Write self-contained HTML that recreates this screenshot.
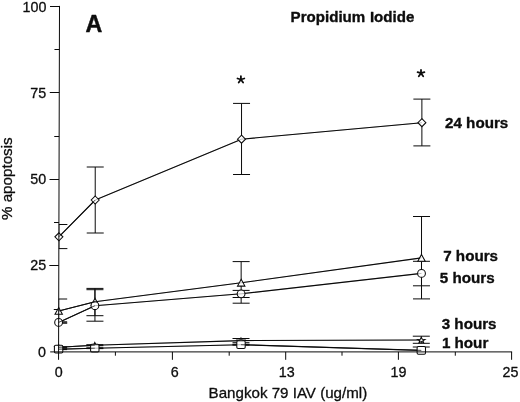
<!DOCTYPE html>
<html><head><meta charset="utf-8"><title>Chart</title>
<style>html,body{margin:0;padding:0;background:#fff;}body{width:520px;height:402px;position:relative;overflow:hidden;font-family:"Liberation Sans",sans-serif;}</style>
</head><body>
<svg width="520" height="402" viewBox="0 0 520 402" style="position:absolute;left:0;top:0">
<defs><filter id="gs" x="0" y="0" width="520" height="402" filterUnits="userSpaceOnUse"><feOffset dx="0" dy="0"/></filter><clipPath id="cp"><path d="M59.5 0L58.57 351.9H530V0Z"/></clipPath></defs>
<g stroke="#0a0a0a" stroke-width="1.0" fill="none">
<path d="M49.30 265.50H58.80"/>
<path d="M49.53 179.50H59.03"/>
<path d="M49.77 92.50H59.27"/>
<path d="M50.00 6.50H59.50"/>
<path d="M53.78 309.50H58.68"/>
<path d="M54.02 222.50H58.92"/>
<path d="M54.25 136.50H59.15"/>
<path d="M54.48 49.50H59.38"/>
<path d="M172.40 351.9V359.8"/>
<path d="M285.70 351.9V359.8"/>
<path d="M398.40 351.9V359.8"/>
<path d="M511.60 351.9V359.8"/>
<path d="M115.40 351.9V355.7"/>
<path d="M229.20 351.9V355.7"/>
<path d="M342.00 351.9V355.7"/>
<path d="M455.30 351.9V355.7"/>
</g>
<g stroke="#0a0a0a" stroke-width="1" fill="none" clip-path="url(#cp)">
<path d="M58.88 224.5V248.6 M50.38 224.5H67.38 M50.38 248.6H67.38"/>
<path d="M95.23 167.0V233.0 M86.73 167.0H103.73 M86.73 233.0H103.73"/>
<path d="M241.54 103.4V174.5 M233.04 103.4H250.04 M233.04 174.5H250.04"/>
<path d="M421.88 99.1V145.9 M413.38 99.1H430.38 M413.38 145.9H430.38"/>
<path d="M58.68 299.0V323.0 M50.18 299.0H67.18 M50.18 323.0H67.18"/>
<path d="M94.95 288.4V315.7 M86.45 288.4H103.45 M86.45 315.7H103.45"/>
<path d="M241.15 261.6V303.2 M232.65 261.6H249.65 M232.65 303.2H249.65"/>
<path d="M421.52 216.5V298.9 M413.02 216.5H430.02 M413.02 298.9H430.02"/>
<path d="M58.65 321.8V323.0 M50.15 321.8H67.15 M50.15 323.0H67.15"/>
<path d="M94.94 289.7V321.2 M86.44 289.7H103.44 M86.44 321.2H103.44"/>
<path d="M241.12 290.4V297.5 M232.62 290.4H249.62 M232.62 297.5H249.62"/>
<path d="M421.48 261.3V285.8 M412.98 261.3H429.98 M412.98 285.8H429.98"/>
<path d="M58.58 346.9V347.7 M50.08 346.9H67.08 M50.08 347.7H67.08"/>
<path d="M94.83 344.7V345.7 M86.33 344.7H103.33 M86.33 345.7H103.33"/>
<path d="M241.00 338.5V342.7 M232.50 338.5H249.50 M232.50 342.7H249.50"/>
<path d="M421.30 336.2V343.3 M412.80 336.2H429.80 M412.80 343.3H429.80"/>
<path d="M58.57 348.8V349.6 M50.07 348.8H67.07 M50.07 349.6H67.07"/>
<path d="M94.83 347.8V348.6 M86.33 347.8H103.33 M86.33 348.6H103.33"/>
<path d="M240.99 344.3V345.1 M232.49 344.3H249.49 M232.49 345.1H249.49"/>
<path d="M421.27 347.0V353.8 M412.77 347.0H429.77 M412.77 353.8H429.77"/>
</g>
<g stroke="#0a0a0a" stroke-width="1.1" fill="none" stroke-linejoin="round">
<path d="M58.88 236.8 L95.23 200.0 L241.54 139.2 L421.88 122.7"/>
<path d="M58.68 311.0 L94.95 301.8 L241.15 282.8 L421.52 257.9"/>
<path d="M58.65 322.4 L94.94 305.7 L241.12 293.8 L421.48 273.4"/>
<path d="M58.58 347.3 L94.83 345.2 L241.00 340.6 L421.30 340.0"/>
<path d="M58.57 349.2 L94.83 348.2 L240.99 344.7 L421.27 350.4"/>
</g>
<g stroke="#0a0a0a" stroke-width="1.05" fill="#fff">
<path d="M58.9 232.8L62.9 236.8L58.9 240.8L54.9 236.8Z"/>
<path d="M95.2 196.0L99.2 200.0L95.2 204.0L91.2 200.0Z"/>
<path d="M241.5 135.2L245.5 139.2L241.5 143.2L237.5 139.2Z"/>
<path d="M421.9 118.7L425.9 122.7L421.9 126.7L417.9 122.7Z"/>
<path d="M58.7 307.5L62.4 314.3L55.0 314.3Z"/>
<path d="M95.0 298.3L98.7 305.1L91.3 305.1Z"/>
<path d="M241.2 279.3L244.9 286.1L237.5 286.1Z"/>
<path d="M421.5 254.4L425.2 261.2L417.8 261.2Z"/>
<circle cx="58.6" cy="322.4" r="3.9"/>
<circle cx="94.9" cy="305.7" r="3.9"/>
<circle cx="241.1" cy="293.8" r="3.9"/>
<circle cx="421.5" cy="273.4" r="3.9"/>
<path d="M58.6 344.6L59.6 346.5L62.3 346.7L60.2 348.0L60.9 350.1L58.6 348.9L56.3 350.1L57.0 348.0L54.9 346.7L57.6 346.5Z"/>
<path d="M94.8 342.5L95.8 344.4L98.5 344.6L96.5 345.9L97.1 348.0L94.8 346.8L92.5 348.0L93.2 345.9L91.1 344.6L93.8 344.4Z"/>
<path d="M241.0 337.9L242.0 339.8L244.7 340.0L242.6 341.3L243.3 343.4L241.0 342.2L238.7 343.4L239.4 341.3L237.3 340.0L240.0 339.8Z"/>
<path d="M421.3 337.3L422.3 339.2L425.0 339.4L422.9 340.7L423.6 342.8L421.3 341.6L419.0 342.8L419.7 340.7L417.6 339.4L420.3 339.2Z"/>
<rect x="54.4" y="345.3" width="8.4" height="7.8" rx="1.3"/>
<rect x="90.6" y="344.3" width="8.4" height="7.8" rx="1.3"/>
<rect x="236.8" y="340.8" width="8.4" height="7.8" rx="1.3"/>
<rect x="417.1" y="346.5" width="8.4" height="7.8" rx="1.3"/>
</g>
<g stroke="#0a0a0a" stroke-width="0.9" fill="none" opacity="0.3">
<path d="M58.88 236.8 L95.23 200.0 L241.54 139.2 L421.88 122.7"/>
<path d="M58.68 311.0 L94.95 301.8 L241.15 282.8 L421.52 257.9"/>
<path d="M58.65 322.4 L94.94 305.7 L241.12 293.8 L421.48 273.4"/>
<path d="M58.58 347.3 L94.83 345.2 L241.00 340.6 L421.30 340.0"/>
<path d="M58.57 349.2 L94.83 348.2 L240.99 344.7 L421.27 350.4"/>
</g>
<g stroke="#0a0a0a" stroke-width="0.9" fill="none" opacity="0.7">
<path d="M58.88 236.8 L95.23 200.0"/>
<path d="M58.68 311.0 L94.95 301.8"/>
<path d="M58.65 322.4 L94.94 305.7"/>
<path d="M58.58 347.3 L94.83 345.2"/>
<path d="M58.57 349.2 L94.83 348.2"/>
<path d="M240.99 344.7 L421.27 350.4"/>
</g>
<path d="M59.5 5.9L58.55 359.8 M50.2 351.9H512.1" stroke="#0a0a0a" stroke-width="1" fill="none"/>
<g font-family="Liberation Sans, sans-serif" fill="#0d0d0d" stroke="#0d0d0d" stroke-width="0.3" stroke-linejoin="round" filter="url(#gs)">
<text x="46.4" y="11.8" font-size="14.3" text-anchor="end">100</text>
<text x="46.1" y="98.1" font-size="14.3" text-anchor="end">75</text>
<text x="46.2" y="184.0" font-size="14.3" text-anchor="end">50</text>
<text x="46.1" y="269.9" font-size="14.3" text-anchor="end">25</text>
<text x="46.0" y="356.7" font-size="14.3" text-anchor="end">0</text>
<text x="58.7" y="376.6" font-size="14.3" text-anchor="middle">0</text>
<text x="174.85" y="376.6" font-size="14.3" text-anchor="middle">6</text>
<text x="286.8" y="376.6" font-size="14.3" text-anchor="middle">13</text>
<text x="398.55" y="376.6" font-size="14.3" text-anchor="middle">19</text>
<text x="510.4" y="376.6" font-size="14.3" text-anchor="middle">25</text>
<text x="287.9" y="397.8" font-size="15" textLength="158.6" lengthAdjust="spacingAndGlyphs" text-anchor="middle">Bangkok 79 IAV (ug/ml)</text>
<text transform="translate(11.5 178.7) rotate(-90)" font-size="15.2" text-anchor="middle">% apoptosis</text>
<g font-weight="bold" stroke-width="0.35">
<text x="85.4" y="32.2" font-size="24.6" stroke-width="0.5" textLength="16.8" lengthAdjust="spacingAndGlyphs">A</text>
<text x="290.6" y="21.9" font-size="15.1" word-spacing="0.5">Propidium Iodide</text>
<text x="445.0" y="127.8" font-size="15.2">24 hours</text>
<text x="443.2" y="261.4" font-size="15.2">7 hours</text>
<text x="439.8" y="283.0" font-size="15.2">5 hours</text>
<text x="441.7" y="329.3" font-size="15.2">3 hours</text>
<text x="441.9" y="347.8" font-size="15.2">1 hour</text>
<path d="M240.9 79.5V76.2 M240.9 79.5L237.5 78.5 M240.9 79.5L244.3 78.5 M240.9 79.5L238.7 82.5 M240.9 79.5L243.1 82.5" stroke="#0d0d0d" stroke-width="1.8" stroke-linecap="round" fill="none"/>
<path d="M421.0 73.2V69.9 M421.0 73.2L417.6 72.2 M421.0 73.2L424.4 72.2 M421.0 73.2L418.8 76.2 M421.0 73.2L423.2 76.2" stroke="#0d0d0d" stroke-width="1.8" stroke-linecap="round" fill="none"/>
</g></g>
</svg>
</body></html>
